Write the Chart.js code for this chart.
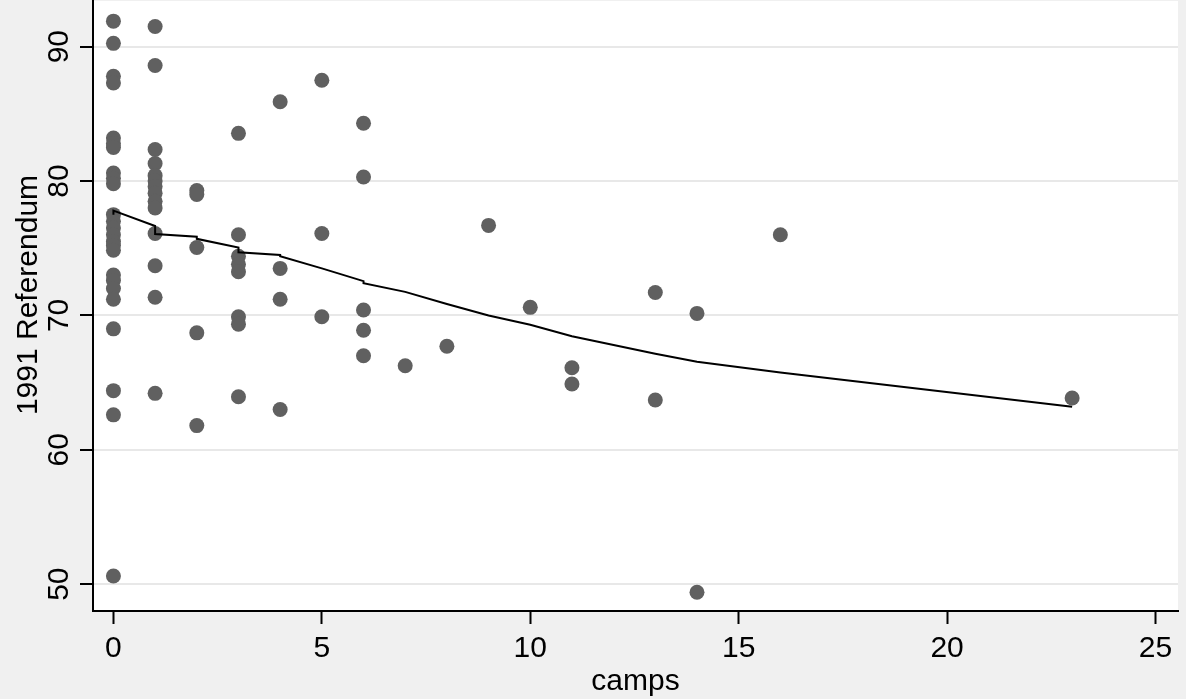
<!DOCTYPE html>
<html>
<head>
<meta charset="utf-8">
<script src="https://cdn.jsdelivr.net/npm/chart.js@4/dist/chart.umd.min.js"></script>
<style>
  html, body { margin: 0; padding: 0; background: #f0f0f0; }
  canvas { display: block; }
</style>
</head>
<body>
<canvas id="chartCamps" width="1186" height="699"></canvas>
<script>
// observations: camps (x) vs 1991 Referendum (y)
const camps = [
  0, 0, 0, 0, 0, 0, 0, 0, 0, 0, 0, 0, 0, 0, 0, 0, 0, 0, 0, 0, 0, 0, 0, 0, 0,
  1, 1, 1, 1, 1, 1, 1, 1, 1, 1, 1, 1, 1, 1,
  2, 2, 2, 2, 2,
  3, 3, 3, 3, 3, 3, 3, 3,
  4, 4, 4, 4,
  5, 5, 5,
  6, 6, 6, 6, 6,
  7, 8, 9, 10, 11, 11, 13, 13, 14, 14, 16, 23
];
const referendum = [
  91.9, 90.25, 87.8, 87.3, 83.2, 82.8, 82.5, 80.6, 80.2, 79.8, 77.5, 77.0, 76.5,
  76.0, 75.5, 75.2, 74.85, 73.0, 72.6, 72.0, 71.2, 69.0, 64.4, 62.6, 50.6,
  91.5, 88.6, 82.35, 81.3, 80.4, 80.0, 79.6, 79.1, 78.5, 78.0, 76.1, 73.7, 71.35, 64.2,
  79.3, 79.0, 75.05, 68.7, 61.8,
  83.55, 76.0, 74.4, 73.8, 73.25, 69.9, 69.35, 63.95,
  85.9, 73.5, 71.2, 63.0,
  87.5, 76.1, 69.9,
  84.3, 80.3, 70.4, 68.9, 67.0,
  66.25, 67.7, 76.7, 70.6, 66.1, 64.9, 71.7, 63.7, 70.15, 49.4, 76.0, 63.85
];

// lowess smoother (ties give small steps)
const lowessCamps = [0, 0, 1, 1, 2, 2, 3, 3, 4, 4, 5, 6, 6, 7, 8, 9, 10, 11, 13, 14, 16, 23];
const lowessFit = [77.5, 77.8, 76.65, 76.05, 75.85, 75.7, 75.05, 74.7, 74.5, 74.4, 73.5,
  72.55, 72.4, 71.75, 70.85, 70.0, 69.3, 68.45, 67.15, 66.55, 65.75, 63.2];

const xTicks = [0, 5, 10, 15, 20, 25];
const yTicks = [50, 60, 70, 80, 90];

const FONT = '"Liberation Sans", Arial, sans-serif';

const bgPlugin = {
  id: 'bg',
  beforeDraw(chart) {
    const { ctx, chartArea } = chart;
    ctx.save();
    ctx.fillStyle = '#f0f0f0';
    ctx.fillRect(0, 0, chart.width, chart.height);
    ctx.fillStyle = '#ffffff';
    ctx.fillRect(chartArea.left, chartArea.top, chartArea.right - chartArea.left, chartArea.bottom - chartArea.top);
    ctx.restore();
  }
};

// rotated y tick labels and y title, like Stata
const yLabelPlugin = {
  id: 'yLabels',
  afterDraw(chart) {
    const { ctx } = chart;
    const y = chart.scales.y;
    ctx.save();
    ctx.fillStyle = '#000';
    ctx.font = '30px ' + FONT;
    ctx.textAlign = 'center';
    ctx.textBaseline = 'alphabetic';
    y.ticks.forEach(t => {
      ctx.save();
      ctx.translate(68, y.getPixelForValue(t.value));
      ctx.rotate(-Math.PI / 2);
      ctx.fillText(String(t.value), 0, 0);
      ctx.restore();
    });
    ctx.translate(37, 295);
    ctx.rotate(-Math.PI / 2);
    ctx.fillText('1991 Referendum', 0, 0);
    ctx.restore();
  }
};

const points = camps.map((c, i) => ({ x: c, y: referendum[i] }));
const fit = lowessCamps.map((c, i) => ({ x: c, y: lowessFit[i] }));

const ctx = document.getElementById('chartCamps').getContext('2d');
new Chart(ctx, {
  type: 'scatter',
  data: {
    datasets: [{
      label: 'lowess',
      data: fit,
      showLine: true,
      borderColor: '#000',
      borderWidth: 2,
      pointRadius: 0,
      tension: 0,
      order: 0
    }, {
      label: '1991 Referendum',
      data: points,
      pointRadius: 7.5,
      pointBackgroundColor: '#606060',
      pointBorderWidth: 0,
      order: 1
    }]
  },
  options: {
    responsive: false,
    animation: false,
    layout: { autoPadding: false, padding: { top: 1, right: 8, left: 0, bottom: 0 } },
    plugins: {
      legend: { display: false },
      tooltip: { enabled: false }
    },
    scales: {
      x: {
        type: 'linear',
        min: -0.49,
        max: 25.54,
        afterBuildTicks: s => { s.ticks = xTicks.map(v => ({ value: v })); },
        afterFit: s => { s.height = 88; },
        grid: { drawOnChartArea: false, drawTicks: true, tickLength: 13, tickColor: '#000', tickWidth: 2 },
        border: { display: true, color: '#000', width: 2 },
        ticks: { color: '#000', font: { family: FONT, size: 30 }, padding: 7, maxRotation: 0, autoSkip: false },
        title: { display: true, text: 'camps', color: '#000', font: { family: FONT, size: 30, lineHeight: 1 }, padding: { top: 0, bottom: 2 } }
      },
      y: {
        type: 'linear',
        min: 48.0,
        max: 93.4,
        afterBuildTicks: s => { s.ticks = yTicks.map(v => ({ value: v })); },
        afterFit: s => { s.width = 93; },
        grid: { color: '#e8e8e8', lineWidth: 2, drawTicks: true, tickLength: 13, tickColor: '#000', tickWidth: 2 },
        border: { display: true, color: '#000', width: 2 },
        ticks: { display: false }
      }
    }
  },
  plugins: [bgPlugin, yLabelPlugin]
});
</script>
</body>
</html>
